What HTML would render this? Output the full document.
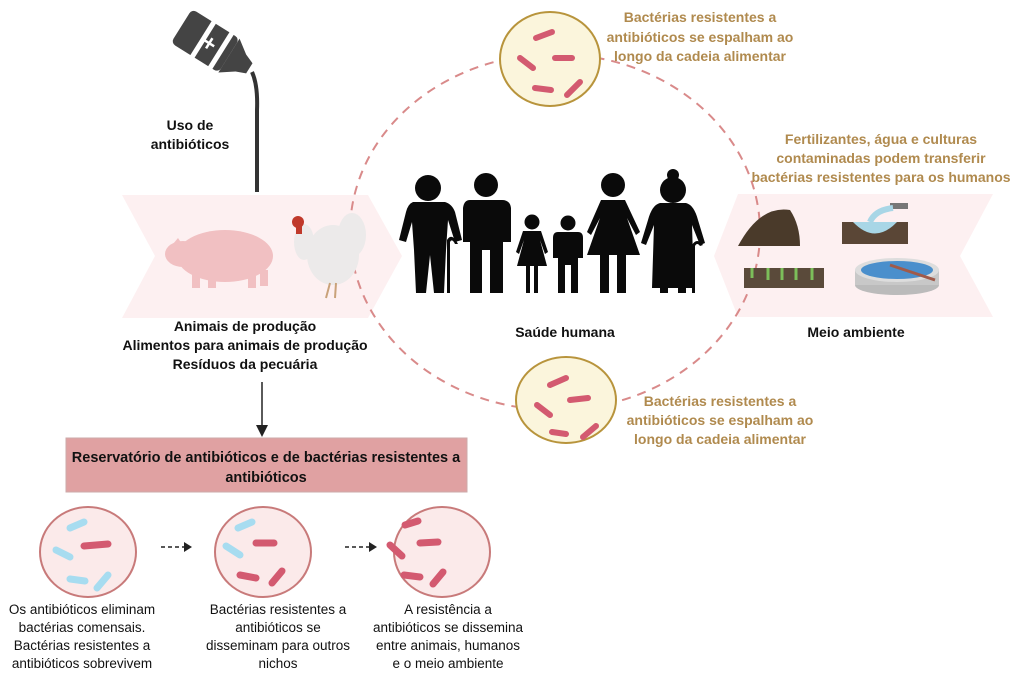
<!DOCTYPE html>
<html><head><meta charset="utf-8"><style>
body{margin:0;background:#fff}
svg{display:block}
text{font-family:"Liberation Sans",sans-serif;font-weight:bold;font-size:14px;text-anchor:middle}
.g{fill:#b08a4e;font-size:14px}
.k{fill:#111}
.n{fill:#111;font-weight:normal;font-size:13.5px}
</style></head><body>
<svg width="1024" height="679" viewBox="0 0 1024 679" xmlns="http://www.w3.org/2000/svg">
<polygon points="122,195 368,195 402,256 368,318 122,318 155,256" fill="#fdf0f1"/>
<polygon points="714,256 738,194 993,194 960,256 993,317 738,317" fill="#fdf0f1"/>
<ellipse cx="555" cy="232" rx="205" ry="178" fill="none" stroke="#d98a8a" stroke-width="2" stroke-dasharray="9,7"/>
<!-- bottle -->
<g transform="translate(212,45) rotate(32)">
<rect x="-36" y="-20" width="56" height="40" rx="5" fill="#444"/>
<rect x="-13" y="-22" width="5" height="44" fill="#fff"/>
<rect x="8" y="-22" width="5" height="44" fill="#fff"/>
<path d="M20,-20 L34,-10 L44,-6 L44,6 L34,10 L20,20 Z" fill="#444"/>
<rect x="-4.5" y="-6" width="2.5" height="12" fill="#fff"/><rect x="-9" y="-1.3" width="11.5" height="2.5" fill="#fff"/>
</g>
<path d="M252,72 Q258,85 257,110 L257,192" stroke="#333" stroke-width="4" fill="none"/>
<text class="k" x="190" y="130">Uso de</text>
<text class="k" x="190" y="149">antibióticos</text>
<!-- pig -->
<g fill="#f1c0c2">
<ellipse cx="225" cy="256" rx="48" ry="26"/>
<ellipse cx="183" cy="254" rx="18" ry="13"/>
<polygon points="168,250 178,238 186,250"/>
<rect x="192" y="270" width="8" height="18"/><rect x="208" y="272" width="8" height="16"/>
<rect x="248" y="270" width="8" height="18"/><rect x="260" y="270" width="8" height="16"/>
</g>
<!-- chicken -->
<g fill="#eceaea">
<ellipse cx="333" cy="255" rx="26" ry="30"/>
<ellipse cx="304" cy="242" rx="10" ry="18"/>
<ellipse cx="352" cy="235" rx="14" ry="22"/>
</g>
<circle cx="298" cy="222" r="6" fill="#c0392b"/><rect x="296" y="225" width="6" height="9" fill="#c0392b"/>
<path d="M330,283 L326,298 M336,283 L335,298" stroke="#c9a27a" stroke-width="2"/>
<!-- people -->
<g fill="#0a0a0a">
<circle cx="428" cy="188" r="13"/>
<path d="M413,202 H445 Q452,204 455,212 L462,240 L455,242 L448,220 L446,250 L444,293 H434 L430,255 L426,293 H416 L414,250 L412,222 L406,242 L399,240 L406,212 Q408,204 413,202Z"/>
<path d="M447,240 Q452,232 458,244 L455,244 Q452,238 450,242 L450,293 H447Z"/>
<circle cx="486" cy="185" r="12"/>
<path d="M470,200 H502 Q510,200 511,208 V242 H503 V214 V293 H490 V250 H482 V293 H470 V214 V242 H463 V208 Q464,200 470,200Z"/>
<circle cx="532" cy="222" r="7.5"/>
<path d="M523,231 H541 L548,252 L545,254 L540,240 L547,266 H538 V293 H534 V266 H530 V293 H526 V266 H517 L524,240 L519,254 L516,252Z"/>
<circle cx="568" cy="223" r="7.5"/>
<path d="M558,232 H578 Q583,232 583,238 V258 H578 V293 H571 V265 H565 V293 H558 V258 H553 V238 Q553,232 558,232Z"/>
<circle cx="613" cy="185" r="12"/>
<path d="M601,200 H625 L640,232 L636,235 L627,218 L640,255 H626 V293 H617 V255 H609 V293 H600 V255 H587 L600,218 L591,235 L587,232Z"/>
<circle cx="673" cy="190" r="13"/><circle cx="673" cy="175" r="6"/>
<path d="M660,203 H686 Q694,205 698,220 L705,243 L700,245 L692,225 L694,288 H652 L654,225 L646,245 L641,243 L648,220 Q652,205 660,203Z"/>
<rect x="660" y="285" width="8" height="8"/><rect x="678" y="285" width="8" height="8"/>
<path d="M692,245 Q697,237 703,245 L700,246 Q697,242 695,246 L695,293 H692Z"/>
</g>
<text class="k" x="245" y="331">Animais de produção</text>
<text class="k" x="245" y="350">Alimentos para animais de produção</text>
<text class="k" x="245" y="369">Resíduos da pecuária</text>
<text class="k" x="565" y="337">Saúde humana</text>
<text class="k" x="856" y="337">Meio ambiente</text>
<!-- environment icons -->
<path d="M738,246 Q760,205 790,210 Q800,225 800,246Z" fill="#4a3a2a"/>
<path d="M842,222 H908 V244 H842Z" fill="#5a4636"/>
<path d="M853,222 Q875,245 897,222Z" fill="#a8d6e6"/>
<rect x="890" y="203" width="18" height="6" fill="#777"/>
<path d="M893,208 Q875,210 870,222" stroke="#a8d6e6" stroke-width="6" fill="none"/>
<rect x="744" y="268" width="80" height="20" fill="#5a4a3a"/>
<path d="M752,268 v10 M768,268 v12 M782,268 v12 M796,268 v12 M812,268 v12" stroke="#7cbf5a" stroke-width="3"/>
<ellipse cx="897" cy="285" rx="42" ry="10" fill="#bbb"/>
<rect x="855" y="270" width="84" height="15" fill="#c8c8c8"/>
<ellipse cx="897" cy="270" rx="42" ry="12" fill="#ddd"/>
<ellipse cx="897" cy="270" rx="36" ry="9" fill="#4a8fcc"/>
<path d="M890,265 L935,280" stroke="#a05a4a" stroke-width="3"/>
<!-- top bacteria circle -->
<ellipse cx="550" cy="59" rx="50" ry="47" fill="#fbf5dc" stroke="#b8943c" stroke-width="2"/>
<g stroke="#d35a70" stroke-width="6" stroke-linecap="round">
<line x1="536" y1="38" x2="552" y2="32"/><line x1="555" y1="58" x2="572" y2="58"/>
<line x1="520" y1="58" x2="533" y2="68"/><line x1="535" y1="88" x2="551" y2="90"/>
<line x1="567" y1="95" x2="580" y2="82"/>
</g>
<ellipse cx="566" cy="400" rx="50" ry="43" fill="#fbf5dc" stroke="#b8943c" stroke-width="2"/>
<g stroke="#d35a70" stroke-width="6" stroke-linecap="round">
<line x1="550" y1="385" x2="566" y2="378"/><line x1="570" y1="400" x2="588" y2="398"/>
<line x1="537" y1="405" x2="550" y2="415"/><line x1="552" y1="432" x2="566" y2="434"/>
<line x1="583" y1="437" x2="596" y2="426"/>
</g>
<text class="g" x="700" y="22">Bactérias resistentes a</text>
<text class="g" x="700" y="42">antibióticos se espalham ao</text>
<text class="g" x="700" y="61">longo da cadeia alimentar</text>
<text class="g" x="881" y="144">Fertilizantes, água e culturas</text>
<text class="g" x="881" y="163">contaminadas podem transferir</text>
<text class="g" x="881" y="182">bactérias resistentes para os humanos</text>
<text class="g" x="720" y="406">Bactérias resistentes a</text>
<text class="g" x="720" y="425">antibióticos se espalham ao</text>
<text class="g" x="720" y="444">longo da cadeia alimentar</text>
<line x1="262" y1="382" x2="262" y2="426" stroke="#222" stroke-width="1.5"/>
<polygon points="256,425 268,425 262,437" fill="#222"/>
<rect x="66" y="438" width="401" height="54" fill="#e0a1a2" stroke="#caa" stroke-width="1"/>
<text class="k" x="266" y="462" style="font-size:14.5px">Reservatório de antibióticos e de bactérias resistentes a</text>
<text class="k" x="266" y="482" style="font-size:14.5px">antibióticos</text>
<g fill="#fbeaea" stroke="#c87a7a" stroke-width="2">
<ellipse cx="88" cy="552" rx="48" ry="45"/><ellipse cx="263" cy="552" rx="48" ry="45"/><ellipse cx="442" cy="552" rx="48" ry="45"/>
</g>
<g stroke-width="7" stroke-linecap="round">
<g stroke="#a7dcf0"><line x1="70" y1="528" x2="84" y2="522"/><line x1="56" y1="550" x2="70" y2="557"/><line x1="70" y1="579" x2="85" y2="581"/><line x1="97" y1="588" x2="108" y2="575"/>
<line x1="238" y1="528" x2="252" y2="522"/><line x1="226" y1="546" x2="240" y2="555"/></g>
<g stroke="#d35a70"><line x1="84" y1="546" x2="108" y2="544"/>
<line x1="256" y1="543" x2="274" y2="543"/><line x1="240" y1="575" x2="256" y2="578"/><line x1="272" y1="583" x2="282" y2="571"/>
<line x1="405" y1="525" x2="418" y2="521"/><line x1="420" y1="543" x2="438" y2="542"/><line x1="390" y1="545" x2="402" y2="556"/><line x1="404" y1="575" x2="420" y2="577"/><line x1="433" y1="584" x2="443" y2="572"/></g>
</g>
<g stroke="#222" stroke-width="1.5" stroke-dasharray="4,3"><line x1="161" y1="547" x2="184" y2="547"/><line x1="345" y1="547" x2="369" y2="547"/></g>
<polygon points="184,542 192,547 184,552" fill="#222"/><polygon points="369,542 377,547 369,552" fill="#222"/>
<text class="n" x="82" y="614">Os antibióticos eliminam</text>
<text class="n" x="82" y="632">bactérias comensais.</text>
<text class="n" x="82" y="650">Bactérias resistentes a</text>
<text class="n" x="82" y="668">antibióticos sobrevivem</text>
<text class="n" x="278" y="614">Bactérias resistentes a</text>
<text class="n" x="278" y="632">antibióticos se</text>
<text class="n" x="278" y="650">disseminam para outros</text>
<text class="n" x="278" y="668">nichos</text>
<text class="n" x="448" y="614">A resistência a</text>
<text class="n" x="448" y="632">antibióticos se dissemina</text>
<text class="n" x="448" y="650">entre animais, humanos</text>
<text class="n" x="448" y="668">e o meio ambiente</text>
</svg>
</body></html>
